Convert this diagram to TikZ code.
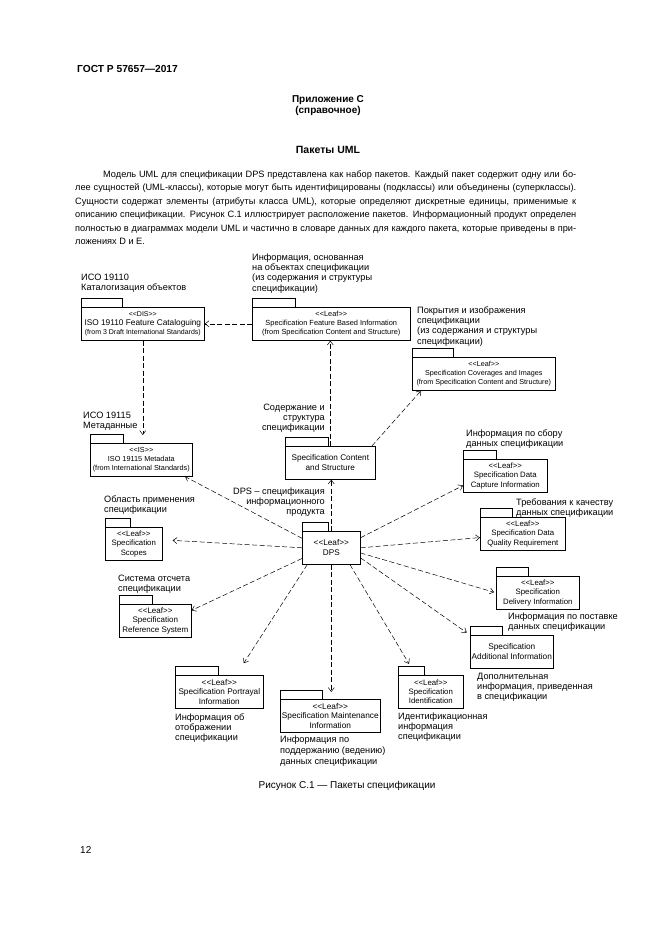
\documentclass[tikz,border=0pt]{standalone}
\usepackage{fontspec}
\setmainfont{Liberation Sans}
\usetikzlibrary{arrows.meta}
\newcommand{\stereo}[1]{<\kern0pt<#1>\kern0pt>}

\begin{document}
\begin{tikzpicture}[x=1pt, y=-1pt,
    pkg/.style={draw, line width=0.6pt, anchor=north west, minimum width=#1, minimum height=33pt, inner sep=1pt, align=center, font=\fontsize{7.8}{9.4}\selectfont},
    pkgtab/.style={draw, line width=0.6pt},
    dep/.style={-{Straight Barb[length=4pt, width=6pt]}, line width=0.5pt, dash pattern=on 5pt off 2.5pt},
    lbl/.style={anchor=base west, align=left, inner sep=0pt, font=\fontsize{9.2}{10.4}\selectfont},
    lblr/.style={lbl, anchor=base east, align=right}
]
\path[fill=white, use as bounding box] (0,0) rectangle (661,935);

% page text (multi-line nodes sit on the baseline of their last line)
\node[anchor=base west, inner sep=0pt, font=\fontsize{10.2}{12}\selectfont\bfseries] (head) at (77,72) {ГОСТ Р 57657—2017};
\node[anchor=base, inner sep=0pt, font=\fontsize{10}{12}\selectfont\bfseries] (annex) at (328,102) {Приложение С};
\node[anchor=base, inner sep=0pt, font=\fontsize{10}{12}\selectfont\bfseries] (annexkind) at (328,113.5) {(справочное)};
\node[anchor=base, inner sep=0pt, font=\fontsize{10.5}{12}\selectfont\bfseries] (title) at (328,153) {Пакеты UML};
\node[anchor=base west, align=left, inner sep=0pt, font=\fontsize{9.2}{13.4}\selectfont] (para) at (75,244.5) {%
\makebox[501pt][s]{\hspace*{28pt}Модель UML для спецификации DPS представлена как набор пакетов. Каждый пакет содержит одну или бо-}\\
\makebox[501pt][s]{лее сущностей (UML-классы), которые могут быть идентифицированы (подклассы) или объединены (суперклассы).}\\
\makebox[501pt][s]{Сущности содержат элементы (атрибуты класса UML), которые определяют дискретные единицы, применимые к}\\
\makebox[501pt][s]{описанию спецификации. Рисунок С.1 иллюстрирует расположение пакетов. Информационный продукт определен}\\
\makebox[501pt][s]{полностью в диаграммах модели UML и частично в словаре данных для каждого пакета, которые приведены в при-}\\
ложениях D и E.};

% packages
\node[pkg=123pt] (dis) at (81,307) {{\fontsize{7}{9}\selectfont\stereo{DIS}}\\{\fontsize{8.3}{9}\selectfont ISO 19110 Feature Cataloguing}\\{\fontsize{7}{9}\selectfont (from 3 Draft International Standards)}};
\node[pkg=158pt, font=\fontsize{7.4}{9.2}\selectfont] (sfb) at (252,307) {\stereo{Leaf}\\Specification Feature Based Information\\(from Specification Content and Structure)};
\node[pkg=143pt, font=\fontsize{7.2}{9}\selectfont] (cov) at (412,357) {\stereo{Leaf}\\Specification Coverages and Images\\(from Specification Content and Structure)};
\node[pkg=102pt, font=\fontsize{7.3}{9}\selectfont] (iso15) at (90,443) {\stereo{IS}\\ISO 19115 Metadata\\(from International Standards)};
\node[pkg=90pt, font=\fontsize{8.2}{10}\selectfont] (scs) at (285,446) {Specification Content\\and Structure};
\node[pkg=58pt, font=\fontsize{8.2}{10}\selectfont] (dps) at (302,531) {\stereo{Leaf}\\DPS};
\node[pkg=57pt] (scope) at (105,527) {\stereo{Leaf}\\Specification\\Scopes};
\node[pkg=72pt, font=\fontsize{8}{9.4}\selectfont] (refsys) at (119,604) {\stereo{Leaf}\\Specification\\Reference System};
\node[pkg=84pt] (capt) at (463,459) {\stereo{Leaf}\\Specification Data\\Capture Information};
\node[pkg=85pt] (qual) at (480,517) {\stereo{Leaf}\\Specification Data\\Quality Requirement};
\node[pkg=83pt] (deliv) at (496,576) {\stereo{Leaf}\\Specification\\Delivery Information};
\node[pkg=83pt, font=\fontsize{8.3}{9.6}\selectfont] (addi) at (470,635) {Specification\\Additional Information};
\node[pkg=65pt] (ident) at (398,675) {\stereo{Leaf}\\Specification\\Identification};
\node[pkg=100pt, font=\fontsize{8.3}{9.4}\selectfont] (maint) at (280,699) {\stereo{Leaf}\\Specification Maintenance\\Information};
\node[pkg=88pt, font=\fontsize{8.2}{9.4}\selectfont] (portr) at (175,675) {\stereo{Leaf}\\Specification Portrayal\\Information};

% package tabs
\foreach \n/\w in {dis/41, sfb/43, cov/41, iso15/33, scs/43, dps/26, scope/25, refsys/33,
                   capt/33, qual/32, deliv/32, addi/32, ident/26, maint/42, portr/43}
  \draw[pkgtab] (\n.north west) rectangle ++(\w,-9);

% labels
\node[lbl] (ldis) at (81,290.4) {ИСО 19110\\Каталогизация объектов};
\node[lbl] (lsfb) at (252,291.2) {Информация, основанная\\на объектах спецификации\\(из содержания и структуры\\спецификации)};
\node[lbl] (lcov) at (417,344.2) {Покрытия и изображения\\спецификации\\(из содержания и структуры\\спецификации)};
\node[lbl] (liso) at (83,428.4) {ИСО 19115\\Метаданные};
\node[lblr] (lscs) at (325,430.8) {Содержание и\\структура\\спецификации};
\node[lblr] (ldps) at (325,514.8) {DPS – спецификация\\информационного\\продукта};
\node[lbl] (lscope) at (104,512.4) {Область применения\\спецификации};
\node[lbl] (lref) at (118,591.4) {Система отсчета\\спецификации};
\node[lbl] (lcapt) at (466,446.4) {Информация по сбору\\данных спецификации};
\node[lbl] (lqual) at (516,515.4) {Требования к качеству\\данных спецификации};
\node[lbl] (ldeliv) at (508,629.4) {Информация по поставке\\данных спецификации};
\node[lbl] (laddi) at (477,699.8) {Дополнительная\\информация, приведенная\\в спецификации};
\node[lbl] (lident) at (398,739.8) {Идентификационная\\информация\\спецификации};
\node[lbl, font=\fontsize{9.2}{11}\selectfont] (lmaint) at (280,764) {Информация по\\поддержанию (ведению)\\данных спецификации};
\node[lbl] (lportr) at (175,740.8) {Информация об\\отображении\\спецификации};

% dependencies
\draw[dep] (sfb.west) -- (dis.east);
\draw[dep, shorten >=8pt] (dis.south) -- (dis.south |- iso15.north);
\draw[dep] (scs.north) -- (scs.north |- sfb.south);
\draw[dep] (scs.22) -- (cov.195);
\draw[dep] (dps.north) -- (dps.north |- scs.south);
\draw[dep] (dps.162) -- (iso15.339);
\draw[dep, shorten >=10pt] (dps.west) -- (scope.8);
\draw[dep] (dps.200) -- (refsys.16);
\draw[dep, shorten >=14pt] (dps.215) -- (portr.45);
\draw[dep, shorten >=7pt] (dps.south) -- (dps.south |- maint.north);
\draw[dep, shorten >=13pt] (dps.318) -- (ident.132);
\draw[dep, shorten >=4pt] (dps.341) -- (addi.north west);
\draw[dep, shorten >=2pt] (dps.350) -- (deliv.west);
\draw[dep] (dps.east) -- (qual.185);
\draw[dep] (dps.19) -- (capt.193);

% caption
\node[anchor=base, inner sep=0pt, font=\fontsize{10}{12}\selectfont] (caption) at (347,788) {Рисунок С.1 — Пакеты спецификации};
\node[anchor=base west, inner sep=0pt, font=\fontsize{10}{12}\selectfont] (pagenum) at (80,853) {12};
\end{tikzpicture}
\end{document}
